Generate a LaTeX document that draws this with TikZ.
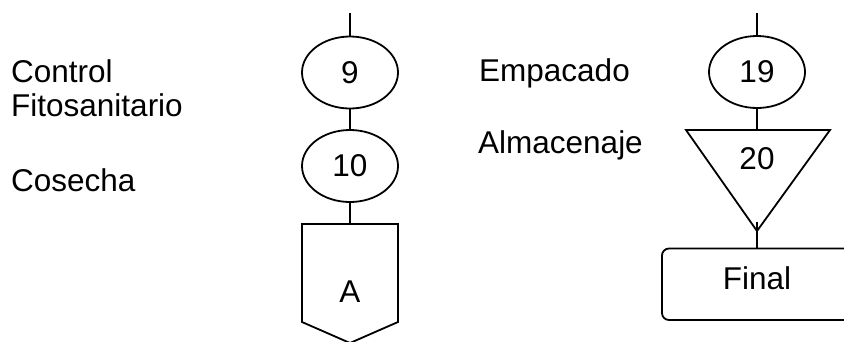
\documentclass[tikz,border=0pt]{standalone}
\usepackage{fontspec}
\setmainfont{Liberation Sans}
\usetikzlibrary{shapes.geometric}
\begin{document}
\begin{tikzpicture}[x=1pt,y=-1pt,
  every node/.style={font=\fontsize{31.5}{35}\selectfont, inner sep=0pt},
  shp/.style={draw, line width=1.8pt},
  oval/.style={shp, ellipse, minimum width=96pt, minimum height=72pt},
  conn/.style={line width=1.8pt},
  lbl/.style={anchor=base west}]
\useasboundingbox (0,0) rectangle (844,341);
\clip (0,0) rectangle (844,341);
% left labels
\node[lbl] (t1) at (11,82) {Control};
\node[lbl] (t2) at (11,116.5) {Fitosanitario};
\node[lbl] (t3) at (11,191.5) {Cosecha};
\node[lbl] (t4) at (479,81.5) {Empacado};
\node[lbl] (t5) at (478,153) {Almacenaje};
% left column
\coordinate (s1) at (350,12.5);
\node[oval] (n9) at (350,72.5) {9};
\node[oval] (n10) at (350,166) {10};
\coordinate (pa) at (350,224);
\draw[shp, line join=miter] (302,224) -- (398,224) -- (398,322) -- (350,343) -- (302,322) -- cycle;
\node (nA) at (350,292) {A};
\draw[conn] (s1) -- (n9.north);
\draw[conn] (n9.south) -- (n10.north);
\draw[conn] (n10.south) -- (pa);
% right column
\coordinate (s2) at (757,12.5);
\node[oval] (n19) at (757,72) {19};
\coordinate (tt) at (757,130);
\draw[shp, line join=miter] (686,130) -- (830,130) -- (757,231) -- cycle;
\node (n20) at (757,159) {20};
\coordinate (ta) at (757,222);
\coordinate (rt) at (757,248.5);
\draw[shp, rounded corners=7pt] (662,248.5) rectangle (852,320);
\node (nF) at (757,278.5) {Final};
\draw[conn] (s2) -- (n19.north);
\draw[conn] (n19.south) -- (tt);
\draw[conn] (ta) -- (rt);
\end{tikzpicture}
\end{document}
